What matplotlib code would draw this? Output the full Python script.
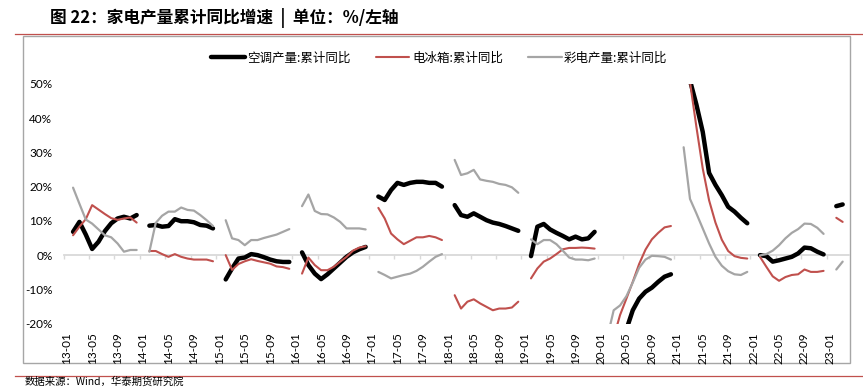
"""家电产量累计同比增速 (空调 / 电冰箱 / 彩电)."""

import matplotlib
matplotlib.use("Agg")
import matplotlib.pyplot as plt
from matplotlib.lines import Line2D
from matplotlib.patches import Rectangle
import numpy as np
import pandas as pd

# yearly values, Feb..Dec (Jan is merged into Feb), 2023 only Feb..Mar
years = list(range(2013, 2024))

ac_yoy = [
	[6.8, 9.7, 6.0, 1.8, 3.9, 7.0, 9.3, 10.7, 11.2, 10.7, 11.7],
	[8.6, 8.8, 8.3, 8.5, 10.5, 9.9, 9.9, 9.6, 8.8, 8.6, 7.8],
	[-7.1, -3.9, -1.0, -0.7, 0.3, 0.0, -0.6, -1.3, -1.8, -2.0, -2.0],
	[0.8, -2.9, -5.4, -7.0, -5.6, -3.9, -2.2, -0.5, 0.8, 1.7, 2.4],
	[17.1, 16.1, 19.0, 21.1, 20.5, 21.1, 21.4, 21.4, 21.1, 21.1, 20.0],
	[14.6, 11.7, 11.2, 12.2, 11.2, 10.2, 9.5, 9.1, 8.5, 7.8, 7.1],
	[-0.3, 8.3, 9.1, 7.5, 6.5, 5.6, 4.6, 5.4, 4.6, 4.9, 6.8],
	[-40.0, -35.0, -28.0, -21.7, -16.1, -12.7, -10.7, -9.5, -7.8, -6.3, -5.6],
	[60.0, 51.0, 44.0, 36.0, 24.0, 20.5, 17.5, 14.1, 12.7, 10.9, 9.3],
	[0.0, -0.3, -1.9, -1.5, -1.0, -0.5, 0.5, 2.2, 2.0, 1.0, 0.2],
	[14.3, 14.8],
]

fridge_yoy = [
	[5.8, 8.3, 10.5, 14.6, 13.3, 12.0, 10.8, 10.3, 10.7, 11.0, 9.5],
	[1.2, 1.2, 0.3, -0.5, 0.3, -0.5, -1.0, -1.3, -1.3, -1.3, -1.8],
	[0.0, -4.3, -2.6, -1.8, -1.2, -1.7, -2.1, -2.5, -3.3, -3.5, -4.0],
	[-5.4, -0.7, -2.9, -4.4, -4.4, -3.4, -1.9, -0.5, 1.3, 2.2, 2.6],
	[13.8, 10.7, 6.3, 4.6, 3.2, 4.2, 5.2, 5.2, 5.6, 5.2, 4.4],
	[-11.7, -15.6, -13.6, -12.9, -14.1, -15.1, -16.1, -15.6, -15.6, -15.3, -13.6],
	[-6.8, -3.9, -1.9, -1.0, 0.3, 1.7, 2.1, 2.1, 2.2, 2.1, 1.9],
	[-35.0, -24.0, -17.5, -12.7, -7.8, -2.6, 1.6, 4.6, 6.5, 8.1, 8.5],
	[60.0, 50.5, 37.5, 25.3, 16.0, 9.5, 4.5, 1.2, -0.3, -0.8, -1.0],
	[-0.5, -3.4, -6.2, -7.5, -6.4, -5.8, -5.6, -4.2, -4.9, -4.9, -4.6],
	[10.9, 9.7],
]

tv_yoy = [
	[19.7, 15.0, 10.4, 9.2, 7.5, 5.8, 5.2, 3.4, 1.0, 1.5, 1.5],
	[1.0, 9.4, 11.5, 12.7, 12.7, 13.9, 13.2, 13.0, 11.7, 10.2, 8.5],
	[10.2, 4.9, 4.4, 2.9, 4.4, 4.4, 5.0, 5.5, 6.0, 6.8, 7.6],
	[14.3, 17.7, 12.9, 12.0, 11.9, 11.0, 9.7, 7.8, 7.8, 7.8, 7.5],
	[-4.9, -5.8, -6.8, -6.3, -5.8, -5.4, -4.6, -3.4, -1.9, -0.5, 0.3],
	[27.8, 23.4, 23.9, 24.9, 22.1, 21.7, 21.4, 20.8, 20.5, 19.8, 18.2],
	[4.6, 3.2, 4.4, 4.4, 3.2, 1.3, -0.7, -1.3, -1.3, -1.5, -1.0],
	[-24.0, -16.1, -14.7, -12.0, -8.0, -3.7, -1.3, -0.2, -0.3, -0.5, -1.3],
	[31.5, 16.4, 12.2, 7.8, 3.4, -0.5, -3.1, -4.7, -5.6, -5.8, -4.9],
	[-0.1, 0.3, 1.3, 2.9, 4.9, 6.5, 7.6, 9.2, 9.1, 8.0, 6.2],
	[-4.2, -1.9],
]

series_names = ["空调产量:累计同比", "电冰箱:累计同比", "彩电产量:累计同比"]
series_colors = ["#000000", "#C0504D", "#A5A5A5"]
series_widths = [3.2, 1.5, 1.6]

months = pd.date_range("2013-01-01", "2023-03-01", freq="MS")
month_labels = [d.strftime("%y-%m") for d in months]

CJK = ["Noto Sans CJK SC", "DejaVu Sans"]
NUM = ["Lato", "DejaVu Sans"]


def to_monthly(yearly):
	vals = np.full(len(months), np.nan)
	for year, row in zip(years, yearly):
		start = (year - 2013) * 12 + 1
		vals[start:start + len(row)] = row
	return vals


def main():
	fig = plt.figure(figsize=(8.63, 3.87), dpi=100)
	ax = fig.add_axes([0.0736, 0.1638, 0.9102, 0.6194])

	x = np.arange(len(months))
	for data, name, color, lw in zip([ac_yoy, fridge_yoy, tv_yoy], series_names,
									 series_colors, series_widths):
		ax.plot(x, to_monthly(data), color=color, lw=lw, label=name,
				solid_capstyle="round", solid_joinstyle="round", clip_on=True)

	ax.set_xlim(-0.5, len(months))
	ax.set_ylim(-20, 50)
	ax.set_yticks(np.arange(-20, 51, 10))
	ax.set_yticklabels([f"{v}%" for v in range(-20, 51, 10)], family=NUM, fontsize=8.5)
	ax.tick_params(axis="y", length=0, pad=8)

	tick_idx = x[::4]
	ax.set_xticks(tick_idx)
	ax.set_xticklabels([month_labels[i] for i in tick_idx], rotation=90,
					   family=NUM, fontsize=8.5)
	ax.tick_params(axis="x", length=0, pad=6)
	for s in ax.spines.values():
		s.set_visible(False)

	# zero line with category tick marks (axis crosses at 0)
	zero = ax.secondary_xaxis(20 / 70)
	zero.set_xticks(tick_idx - 0.5)
	zero.set_xticklabels([])
	zero.tick_params(axis="x", direction="out", length=3, width=1, color="#D9D9D9")
	zero.spines["bottom"].set_color("#D9D9D9")
	zero.spines["bottom"].set_linewidth(1.3)
	ax.set_zorder(2)

	fig.legend(loc="center", bbox_to_anchor=(0.509, 0.850), ncol=3, frameon=False,
			   prop={"family": CJK, "size": 9}, handlelength=2.7,
			   handletextpad=0.2, columnspacing=2.0)

	fig.text(0.058, 0.953, "图 22：家电产量累计同比增速  |  单位：%/左轴", family=CJK,
			 fontsize=12, fontweight="bold", va="center", ha="left")

	fig.add_artist(Line2D([0.0174, 1.0], [0.9134, 0.9134], color="#C0504D", lw=0.9))
	fig.add_artist(Line2D([0.0174, 1.0], [0.0284, 0.0284], color="#C0504D", lw=0.9))
	fig.add_artist(Rectangle((0.0267, 0.062), 0.958, 0.845, fill=False,
							 edgecolor="#A6A6A6", lw=1.0))

	fig.text(0.029, 0.0, "数据来源：Wind，华泰期货研究院", family=CJK, fontsize=7.5,
			 va="bottom", ha="left")

	fig.savefig("out.png", dpi=100)


if __name__ == "__main__":
	main()
